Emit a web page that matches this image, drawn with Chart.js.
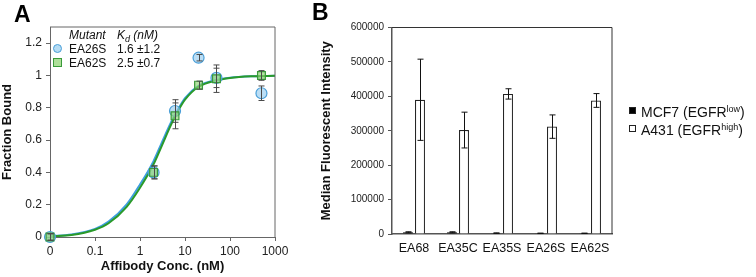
<!DOCTYPE html>
<html>
<head>
<meta charset="utf-8">
<script src="https://cdn.jsdelivr.net/npm/chart.js@4.4.1/dist/chart.umd.min.js"></script>
<style>
  body { margin: 0; background: #fff; font-family: Arial, "Liberation Sans", sans-serif; }
  #wrap { position: relative; width: 756px; height: 277px; overflow: hidden; }
  #boxA { position: absolute; left: 0; top: 0; width: 300px; height: 277px; }
  #boxB { position: absolute; left: 300px; top: 0; width: 456px; height: 277px; }
  .tag { position: absolute; font-weight: bold; font-size: 23px; line-height: 23px; color: #000; }
  .leg { position: absolute; font-size: 12px; color: #111; }
  .leg div { position: absolute; white-space: nowrap; }
  .mk { position: absolute; width: 7px; height: 7px; }
  .legB { position: absolute; left: 629px; font-size: 14px; color: #111; white-space: nowrap; }
  .legB .sq { display: inline-block; width: 5px; height: 5px; border: 1px solid #222; margin-right: 5px; vertical-align: 3px; }
  .legB sup { font-size: 9px; vertical-align: 5px; line-height: 0; }
</style>
</head>
<body>
<div id="wrap">
  <div id="boxA"><canvas id="chartA"></canvas></div>
  <div id="boxB"><canvas id="chartB"></canvas></div>

  <div class="tag" style="left:14px;top:3px;">A</div>
  <div class="tag" style="left:312px;top:1px;">B</div>

  <!-- legenda panel A -->
  <div class="leg" style="left:0;top:0;">
    <div style="left:69px;top:28px;font-style:italic;">Mutant</div>
    <div style="left:117px;top:28px;font-style:italic;">K<sub style="font-size:9px;">d</sub> (nM)</div>
    <span class="mk" style="left:53px;top:44px;border-radius:50%;border:1.5px solid #4a9fd8;background:rgba(150,205,240,0.7);"></span>
    <div style="left:69px;top:42px;">EA26S</div>
    <div style="left:117px;top:42px;">1.6 ±1.2</div>
    <span class="mk" style="left:53px;top:58px;border:1.5px solid #3a9a3a;background:rgba(140,210,110,0.7);"></span>
    <div style="left:69px;top:56px;">EA62S</div>
    <div style="left:117px;top:56px;">2.5 ±0.7</div>
  </div>

  <!-- legenda panel B -->
  <div class="legB" style="top:104px;"><span class="sq" style="background:#000;"></span>MCF7 (EGFR<sup>low</sup>)</div>
  <div class="legB" style="top:122px;"><span class="sq" style="background:#fff;"></span>A431 (EGFR<sup>high</sup>)</div>
</div>

<script>
// --- data panel A ---
const conc = [0.01, 2, 6, 20, 50, 500];          // titik "0" digambar di 0.01
const ea26s = [0, 0.40, 0.78, 1.11, 0.985, 0.89];
const ea26sErr = [0.02, 0.04, 0.07, 0.02, 0.06, 0.045];
const ea62s = [0, 0.40, 0.75, 0.94, 0.98, 1.0];
const ea62sErr = [0.02, 0.04, 0.08, 0.025, 0.085, 0.03];

// kurva fit
const fitX = [0.01, 0.03, 0.1, 0.2, 0.5, 1, 2, 3, 5, 7, 10, 20, 50, 100, 300, 1000];
const fit26s = [0.005, 0.015, 0.05, 0.095, 0.2, 0.325, 0.47, 0.58, 0.715, 0.79, 0.86, 0.935, 0.972, 0.986, 0.995, 0.998];
const fit62s = [0.004, 0.012, 0.045, 0.085, 0.185, 0.305, 0.45, 0.56, 0.70, 0.78, 0.85, 0.93, 0.97, 0.985, 0.995, 0.998];

const xTickValues = [0.01, 0.1, 1, 10, 100, 1000];
const xTickLabels = ['0', '0.1', '1', '10', '100', '1000'];
const yTickValues = [0, 0.2, 0.4, 0.6, 0.8, 1, 1.2];
const yTickLabels = ['0', '0.2', '0.4', '0.6', '0.8', '1', '1.2'];

// --- data panel B ---
const mutants = ['EA68', 'EA35C', 'EA35S', 'EA26S', 'EA62S'];
const mcf7 = [5000, 5000, 2500, 2000, 2000];
const mcf7Err = [1500, 1500, 800, 600, 600];
const a431 = [390000, 302000, 407000, 312000, 388000];
const a431Err = [118000, 52000, 15000, 34000, 20000];
const bTickValues = [0, 100000, 200000, 300000, 400000, 500000, 600000];

Chart.defaults.font.family = 'Arial, "Liberation Sans", sans-serif';
Chart.defaults.animation = false;

const pts = (xs, ys) => xs.map((x, i) => ({ x: x, y: ys[i] }));

// garis atas dan kanan kotak plot
const boxBorder = {
  id: 'boxBorder',
  afterDraw(chart, args, opts) {
    const { ctx, chartArea: a } = chart;
    ctx.save();
    ctx.strokeStyle = opts.color || '#555';
    ctx.lineWidth = opts.width || 1;
    ctx.beginPath();
    ctx.moveTo(a.left, a.top);
    ctx.lineTo(a.right, a.top);
    ctx.lineTo(a.right, a.bottom);
    ctx.stroke();
    ctx.restore();
  }
};

// error bar, diambil dari dataset.errs
const errorBars = {
  id: 'errorBars',
  afterDatasetsDraw(chart, args, opts) {
    const ctx = chart.ctx;
    const yScale = chart.scales.y;
    chart.data.datasets.forEach((ds, di) => {
      if (!ds.errs) return;
      const meta = chart.getDatasetMeta(di);
      ctx.save();
      ctx.strokeStyle = ds.errColor || '#444';
      ctx.lineWidth = 1;
      meta.data.forEach((el, i) => {
        const v = typeof ds.data[i] === 'object' ? ds.data[i].y : ds.data[i];
        const e = ds.errs[i];
        const x = Math.round(el.x) + 0.5;
        const yTop = yScale.getPixelForValue(v + e);
        const yBot = yScale.getPixelForValue(v - e);
        const cap = opts.cap || 3;
        ctx.beginPath();
        ctx.moveTo(x, yTop); ctx.lineTo(x, yBot);
        ctx.moveTo(x - cap, yTop); ctx.lineTo(x + cap, yTop);
        ctx.moveTo(x - cap, yBot); ctx.lineTo(x + cap, yBot);
        ctx.stroke();
      });
      ctx.restore();
    });
  }
};

// --- PANEL A ---
new Chart(document.getElementById('chartA'), {
  type: 'scatter',
  data: {
    datasets: [
      {
        label: 'EA62S', data: pts(conc, ea62s), errs: ea62sErr, errColor: '#4a4a4a',
        pointStyle: 'rect', pointRadius: 5.5, borderWidth: 1.2,
        backgroundColor: 'rgba(140,210,110,0.65)', borderColor: '#3a9a3a',
        clip: false, order: 1
      },
      {
        label: 'EA26S', data: pts(conc, ea26s), errs: ea26sErr, errColor: '#4a4a4a',
        pointStyle: 'circle', pointRadius: 5.5, borderWidth: 1.2,
        backgroundColor: 'rgba(150,205,240,0.65)', borderColor: '#4a9fd8',
        clip: false, order: 2
      },
      {
        type: 'line', label: 'fit EA62S', data: pts(fitX, fit62s),
        borderColor: '#2a9a2a', borderWidth: 2, pointRadius: 0,
        cubicInterpolationMode: 'monotone', order: 3
      },
      {
        type: 'line', label: 'fit EA26S', data: pts(fitX, fit26s),
        borderColor: '#3d9ee0', borderWidth: 2, pointRadius: 0,
        cubicInterpolationMode: 'monotone', order: 4
      }
    ]
  },
  options: {
    responsive: true,
    maintainAspectRatio: false,
    layout: { padding: { top: 27, right: 25, left: 0, bottom: 0 } },
    plugins: {
      legend: { display: false },
      tooltip: { enabled: false },
      boxBorder: { color: '#666', width: 1 },
      errorBars: { cap: 3 }
    },
    scales: {
      x: {
        type: 'logarithmic', min: 0.01, max: 1000,
        afterBuildTicks: s => { s.ticks = xTickValues.map(v => ({ value: v })); },
        afterFit: s => { s.height = 40; },
        ticks: {
          autoSkip: false, maxRotation: 0, padding: 3, color: '#222', font: { size: 12 },
          callback: (v, i) => xTickLabels[i]
        },
        grid: { drawOnChartArea: false, tickLength: 4, color: '#666' },
        border: { color: '#666', width: 1 },
        title: {
          display: true, text: 'Affibody Conc. (nM)', color: '#111',
          font: { size: 13, weight: 'bold' }, padding: { top: 0, bottom: 3 }
        }
      },
      y: {
        min: 0, max: 1.3,
        afterBuildTicks: s => { s.ticks = yTickValues.map(v => ({ value: v })); },
        afterFit: s => { s.width = 50; },
        ticks: {
          padding: 4, color: '#222', font: { size: 12 },
          callback: (v, i) => yTickLabels[i]
        },
        grid: { drawOnChartArea: false, tickLength: 4, color: '#666' },
        border: { color: '#666', width: 1 },
        title: {
          display: true, text: 'Fraction Bound', color: '#111',
          font: { size: 13, weight: 'bold' }, padding: { top: 0, bottom: 0 }
        }
      }
    }
  },
  plugins: [boxBorder, errorBars]
});

// --- PANEL B ---
new Chart(document.getElementById('chartB'), {
  type: 'bar',
  data: {
    labels: mutants,
    datasets: [
      {
        label: 'MCF7 (EGFRlow)', data: mcf7, errs: mcf7Err, errColor: '#111',
        backgroundColor: '#000', borderColor: '#000', borderWidth: 1,
        barPercentage: 0.83, categoryPercentage: 0.545
      },
      {
        label: 'A431 (EGFRhigh)', data: a431, errs: a431Err, errColor: '#111',
        backgroundColor: '#fff', borderColor: '#222', borderWidth: 1.2,
        barPercentage: 0.83, categoryPercentage: 0.545
      }
    ]
  },
  options: {
    responsive: true,
    maintainAspectRatio: false,
    layout: { padding: { top: 27.5, right: 144, left: 0, bottom: 0 } },
    plugins: {
      legend: { display: false },
      tooltip: { enabled: false },
      boxBorder: { color: '#333', width: 1 },
      errorBars: { cap: 3 }
    },
    scales: {
      x: {
        afterFit: s => { s.height = 43; },
        ticks: { padding: 7, color: '#111', font: { size: 12.5 }, autoSkip: false, maxRotation: 0, minRotation: 0 },
        grid: { display: false, drawTicks: false },
        border: { color: '#555', width: 1.5 }
      },
      y: {
        min: 0, max: 600000,
        afterBuildTicks: s => { s.ticks = bTickValues.map(v => ({ value: v })); },
        afterFit: s => { s.width = 92; },
        ticks: { padding: 4, color: '#222', font: { size: 10 }, callback: v => String(v) },
        grid: { drawOnChartArea: false, tickLength: 4, color: '#555' },
        border: { color: '#555', width: 1.5 },
        title: {
          display: true, text: 'Median Fluorescent Intensity', color: '#111',
          font: { size: 13, weight: 'bold' }, padding: { top: 19, bottom: 0 }
        }
      }
    }
  },
  plugins: [boxBorder, errorBars]
});
</script>
</body>
</html>
